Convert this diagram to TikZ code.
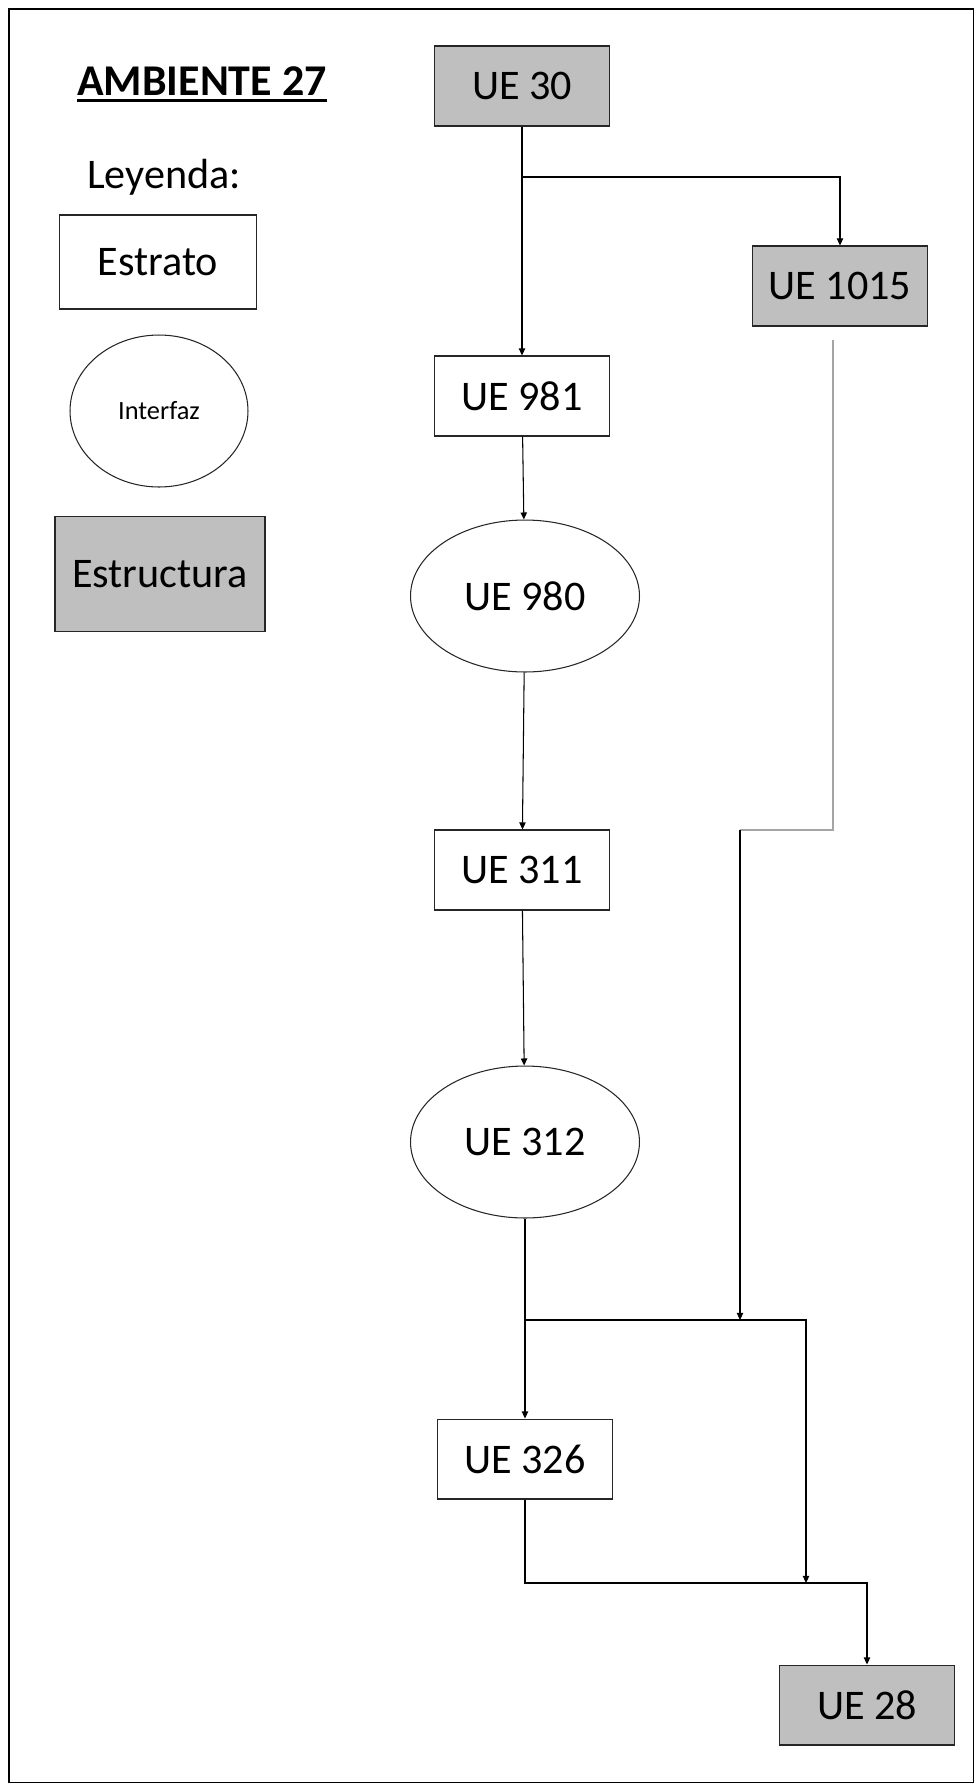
\documentclass[tikz,border=0pt]{standalone}
\usepackage{fontspec}
\setmainfont{Carlito}
\usetikzlibrary{shapes.geometric,arrows.meta}
\definecolor{grisue}{RGB}{191,191,191}
\definecolor{grislinea}{RGB}{165,165,165}

% underline with a thicker rule
\newcommand{\subrayado}[1]{\setbox0\hbox{#1}\rlap{\rule[-0.13cm]{\wd0}{1.5pt}}\box0}

\begin{document}
\begin{tikzpicture}[x=0.02cm, y=-0.02cm,
  font=\fontsize{24}{28}\selectfont,
  estrato/.style={draw=black!85, line width=0.6pt, inner sep=0pt, minimum width=3.5cm, minimum height=1.6cm},
  estructura/.style={estrato, fill=grisue},
  interfaz/.style={ellipse, draw=black!85, line width=0.6pt, inner sep=0pt, minimum width=4.58cm, minimum height=3.04cm},
  flecha/.style={-{Triangle[length=4pt,width=3.6pt]}, line width=0.6pt}]

  \useasboundingbox (0,0) rectangle (974,1783);
  \draw[line width=1.3pt] (9,9) rectangle (974,1783);

  % leyenda
  \node[anchor=base west, font=\fontsize{25}{28}\selectfont\bfseries] (titulo) at (71,95) {\subrayado{AMBIENTE 27}};
  \node[anchor=base west] (leyenda) at (81,188) {Leyenda:};
  \node[estrato, minimum width=3.94cm, minimum height=1.88cm] (estrato) at (158,262) {Estrato};
  \node[interfaz, minimum width=3.56cm, font=\fontsize{15}{18}\selectfont] (interfaz) at (159,411) {Interfaz};
  \node[estructura, minimum width=4.2cm, minimum height=2.3cm] (estructura) at (160,574) {Estructura};

  % unidades estratigraficas
  \node[estructura] (ue30) at (522,86) {UE 30};
  \node[estructura] (ue1015) at (840,286) {UE 1015};
  \node[estrato] (ue981) at (522,396) {UE 981};
  \node[interfaz] (ue980) at (525,596) {UE 980};
  \node[estrato] (ue311) at (522,870) {UE 311};
  \node[interfaz] (ue312) at (525,1142) {UE 312};
  \node[estrato] (ue326) at (525,1459) {UE 326};
  \node[estructura] (ue28) at (867,1705) {UE 28};

  % puntos de quiebre
  \coordinate (r30) at (522,177);
  \coordinate (s1015) at (833,340);
  \coordinate (q1015) at (740,830);
  \coordinate (r312) at (525,1320);
  \coordinate (b312) at (740,1320);
  \coordinate (r326) at (806,1583);

  \draw[flecha] (ue30) -- (ue981);
  \draw[flecha] (r30) -| (ue1015);
  \draw[flecha] (ue981) -- (ue980);
  \draw[flecha] (ue980) -- (ue311);
  \draw[flecha] (ue311) -- (ue312);
  \draw[flecha] (ue312) -- (ue326);
  \draw[line width=0.9pt, grislinea] (s1015) |- (q1015);
  \draw[flecha] (q1015) -- (b312);
  \draw[flecha] (r312) -| (r326);
  \draw[flecha] (ue326) |- (r326) -| (ue28);
\end{tikzpicture}
\end{document}
